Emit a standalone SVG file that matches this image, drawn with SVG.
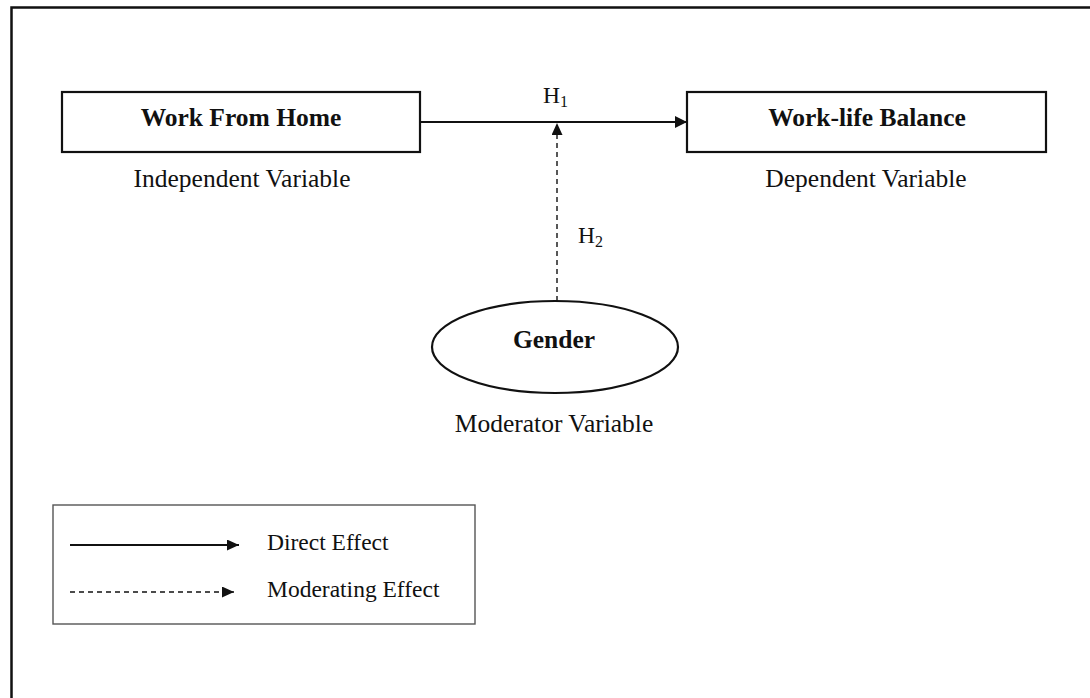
<svg xmlns="http://www.w3.org/2000/svg" width="1090" height="698" viewBox="0 0 1090 698">
<style>
.box{fill:#fff;stroke:#111;stroke-width:2.2}
.t{font-family:"Liberation Serif","Times New Roman",serif;fill:#111}
.b{font-weight:bold;font-size:25.5px}
.r{font-size:25.5px}
.lg{font-size:23.5px}
.solid{stroke:#111;stroke-width:2;fill:none}
.dash{stroke:#111;stroke-width:1.4;fill:none;stroke-dasharray:5,4}
</style>
<defs>
<marker id="ah" markerWidth="12" markerHeight="12" refX="12" refY="6" orient="auto" markerUnits="userSpaceOnUse">
<path d="M0,0 L12,6 L0,12 Z" fill="#111"/>
</marker>
<marker id="ahs" markerWidth="12" markerHeight="11" refX="12" refY="5.5" orient="auto" markerUnits="userSpaceOnUse">
<path d="M0,0 L12,5.5 L0,11 Z" fill="#111"/>
</marker>
</defs>
<rect width="1090" height="698" fill="#fff"/>
<path d="M11.5,698 V7.5 H1090" fill="none" stroke="#111" stroke-width="2.5"/>

<g id="wfh">
<rect class="box" x="62" y="92" width="358" height="60"/>
<text class="t b" x="241" y="126" text-anchor="middle">Work From Home</text>
<text class="t r" x="242" y="187" text-anchor="middle">Independent Variable</text>
</g>

<g id="wlb">
<rect class="box" x="687" y="92" width="359" height="60"/>
<text class="t b" x="867" y="126" text-anchor="middle">Work-life Balance</text>
<text class="t r" x="866" y="187" text-anchor="middle">Dependent Variable</text>
</g>

<g id="gender">
<ellipse class="box" cx="555" cy="347" rx="123" ry="46"/>
<text class="t b" x="554" y="348" text-anchor="middle">Gender</text>
<text class="t r" x="554" y="432" text-anchor="middle">Moderator Variable</text>
</g>

<g id="connectors">
<line class="solid" x1="420" y1="122" x2="687" y2="122" marker-end="url(#ah)"/>
<line class="dash" x1="557" y1="301" x2="557" y2="123" marker-end="url(#ahs)"/>
<text class="t" x="543" y="103" font-size="23.5">H<tspan font-size="16" dy="4">1</tspan></text>
<text class="t" x="578" y="243" font-size="23.5">H<tspan font-size="16" dy="4">2</tspan></text>
</g>

<g id="legend">
<rect x="53" y="505" width="422" height="119" fill="#fff" stroke="#555" stroke-width="1.4"/>
<line class="solid" x1="70" y1="545" x2="239" y2="545" stroke-width="1.6" marker-end="url(#ahs)"/>
<line class="dash" x1="70" y1="592" x2="234" y2="592" marker-end="url(#ahs)"/>
<text class="t lg" x="267" y="550">Direct Effect</text>
<text class="t lg" x="267" y="597">Moderating Effect</text>
</g>
</svg>
